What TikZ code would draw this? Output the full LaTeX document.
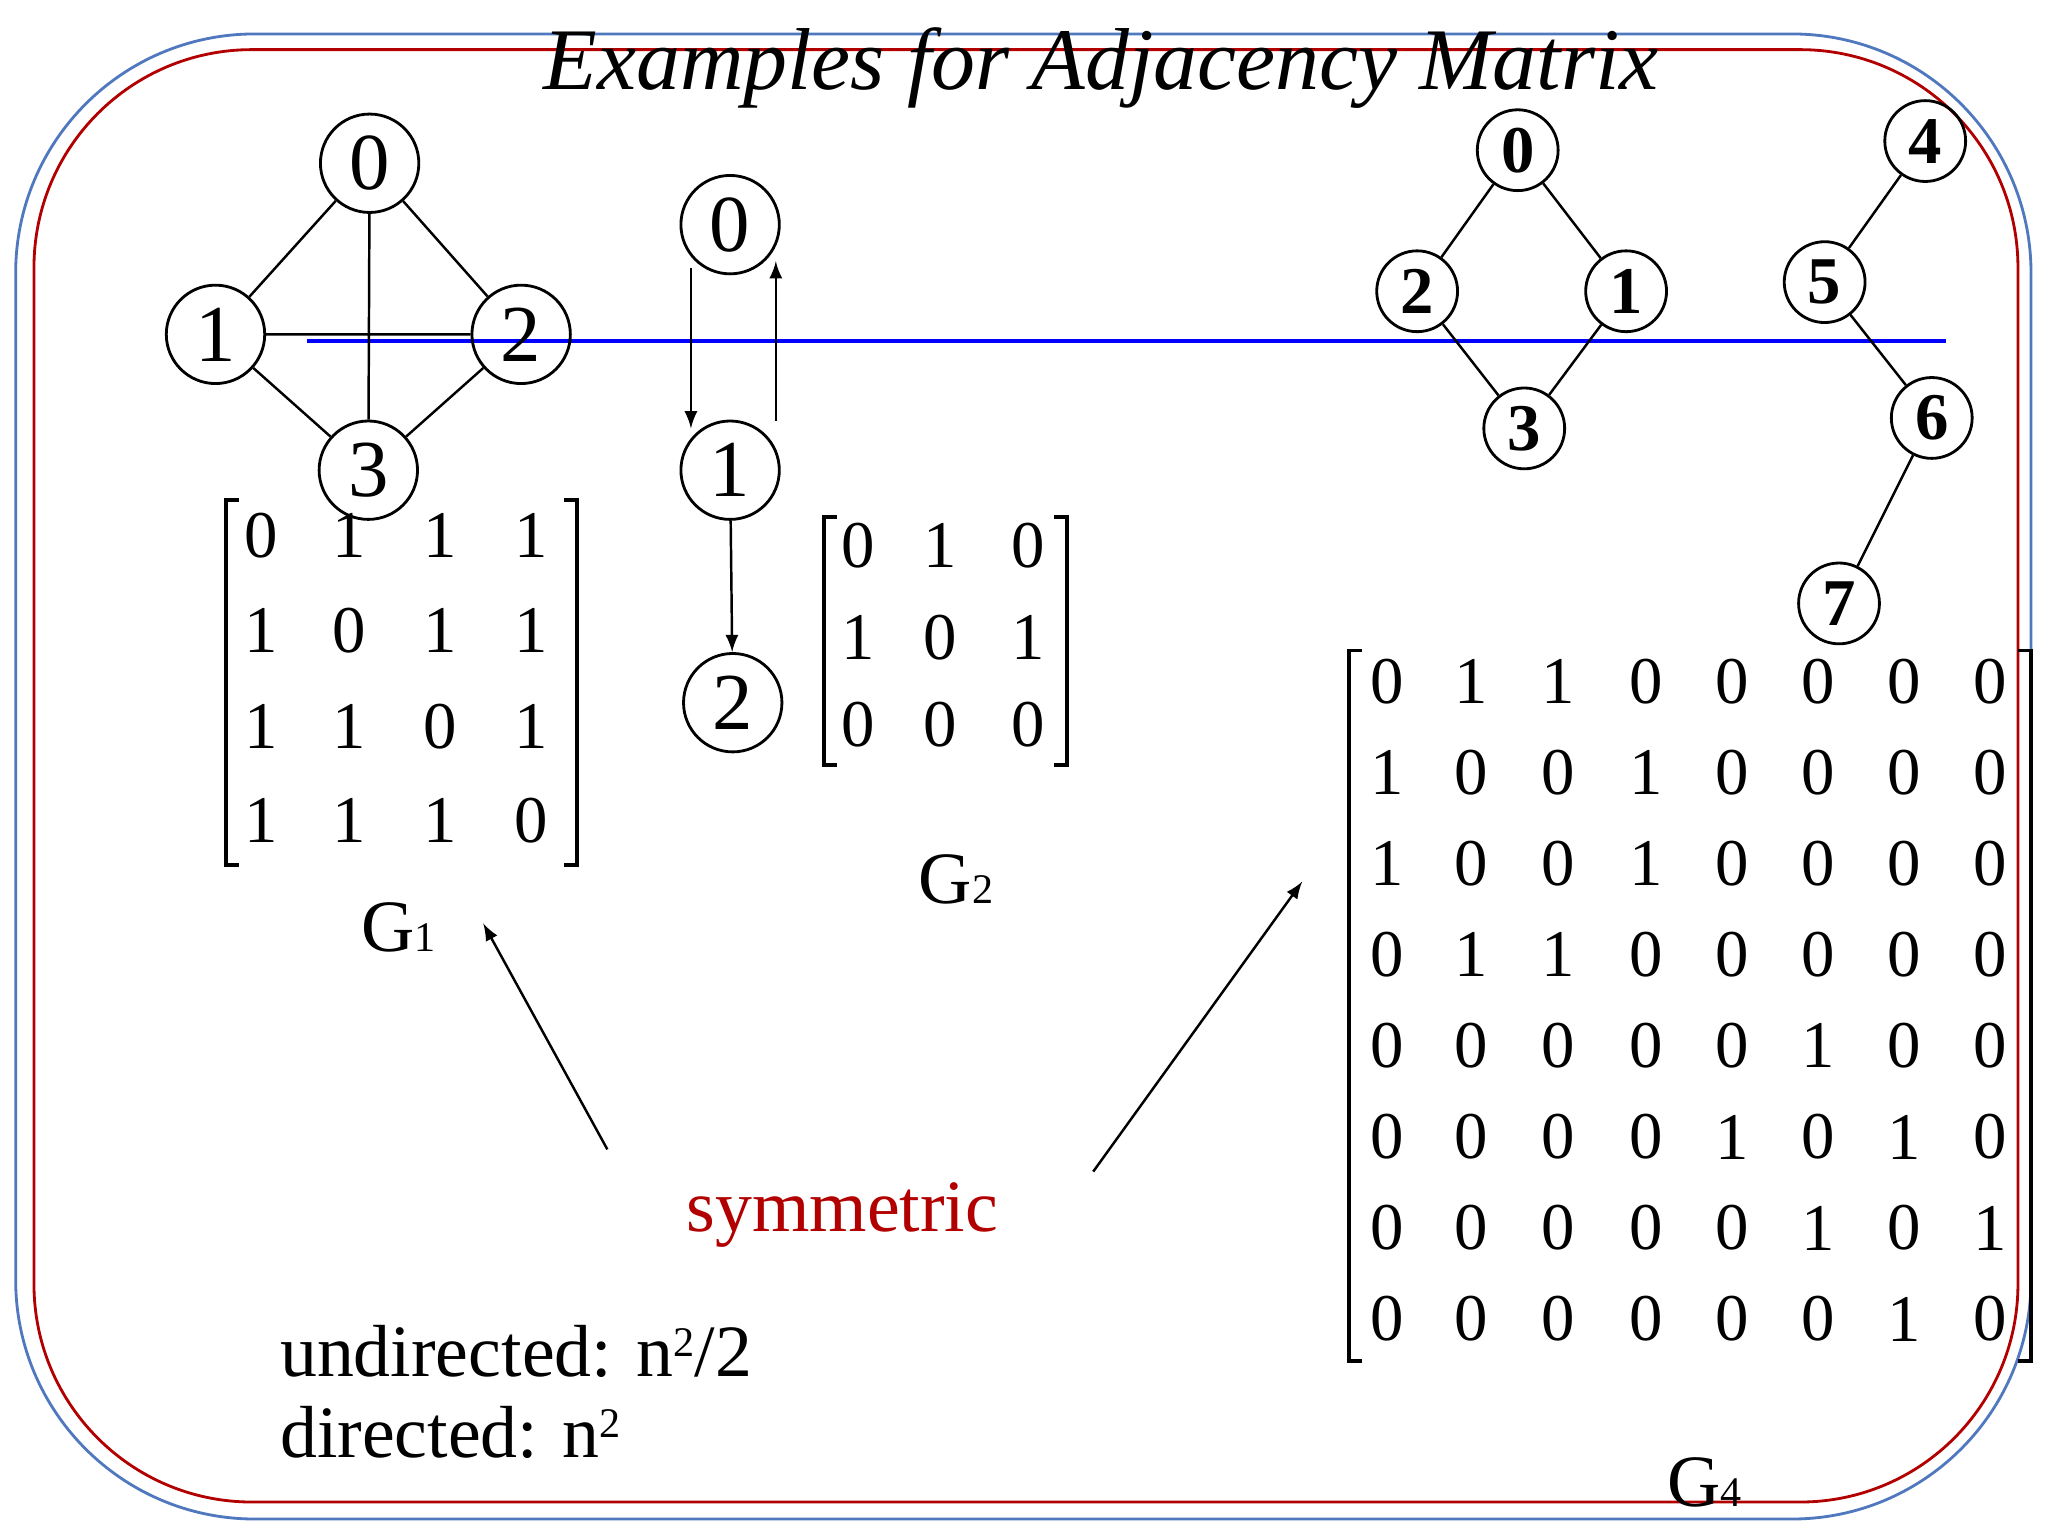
\documentclass[tikz,border=0pt]{standalone}
\usepackage{fontspec}
\setmainfont{Liberation Serif}
\begin{document}
\begin{tikzpicture}[x=0.013061cm,y=-0.013061cm,
 vt/.style={circle,draw,thick,minimum size=28pt,inner sep=0pt,font=\fontsize{23}{23}\selectfont},
 vb/.style={circle,draw,thick,minimum size=23pt,inner sep=0pt,font=\fontsize{19}{19}\selectfont\bfseries},
 mat/.style={font=\fontsize{19}{19}\selectfont,inner sep=0pt},
 br/.style={line width=1.1pt},
 ed/.style={line width=0.7pt},
 ar/.style={-latex,line width=0.7pt},
 lab/.style={font=\fontsize{21}{21}\selectfont}]
\useasboundingbox (0,0) rectangle (1568,1176);
\fill[white] (0,0) rectangle (1568,1176);
\definecolor{fb}{RGB}{80,120,190}
\draw[fb,line width=0.8pt,rounded corners=68pt] (12,26) rectangle (1555,1163);
\draw[red!70!black,line width=0.8pt,rounded corners=62pt] (26,38) rectangle (1545,1150);
\node[font=\fontsize{25}{25}\selectfont\itshape] (title) at (843,52) {Examples for Adjacency Matrix};
\draw[blue,line width=1pt] (235,261) coordinate (bl1) -- (1490,261) coordinate (bl2);
% G1, G2
\node[vt] (a0) at (283,125) {0};
\node[vt] (a1) at (165,256) {1};
\node[vt] (a2) at (399,256) {2};
\node[vt] (a3) at (282,360) {3};
\node[vt] (b0) at (559,172) {0};
\node[vt] (b1) at (559,360) {1};
\node[vt] (b2) at (561,538) {2};
\draw[ed] (a0)--(a1) (a0)--(a2) (a0)--(a3) (a1)--(a2) (a1)--(a3) (a2)--(a3);
\draw[ar] (529,205) coordinate (s1) -- (529,328) coordinate (t1);
\draw[ar] (594,322) coordinate (s2) -- (594,200) coordinate (t2);
\draw[ar] (b1) -- (b2);
% G4
\node[vb] (c0) at (1162,115) {0};
\node[vb] (c2) at (1085,223) {2};
\node[vb] (c1) at (1245,223) {1};
\node[vb] (c3) at (1167,328) {3};
\node[vb] (c4) at (1474,108) {4};
\node[vb] (c5) at (1397,216) {5};
\node[vb] (c6) at (1479,320) {6};
\node[vb] (c7) at (1408,462) {7};
\draw[ed] (c0)--(c2) (c0)--(c1) (c2)--(c3) (c1)--(c3) (c4)--(c5) (c5)--(c6) (c6)--(c7);
% G1 matrix
\draw[br] (183,383)--(173,383)--(173,662)--(183,662);
\draw[br] (432,383)--(442,383)--(442,662)--(432,662);
\foreach \r [count=\i] in {{0,1,1,1},{1,0,1,1},{1,1,0,1},{1,1,1,0}}{
 \foreach \v [count=\j] in \r {
  \pgfmathsetmacro\xx{{200,267,337,407}[\j-1]}
  \pgfmathsetmacro\yy{{410,483,556,628}[\i-1]}
  \node[mat] (m1-\i-\j) at (\xx,\yy) {\v};
 }}
% G2 matrix
\draw[br] (641,396)--(631,396)--(631,586)--(641,586);
\draw[br] (807,396)--(817,396)--(817,586)--(807,586);
\foreach \r [count=\i] in {{0,1,0},{1,0,1},{0,0,0}}{
 \foreach \v [count=\j] in \r {
  \pgfmathsetmacro\xx{{657,720,787}[\j-1]}
  \pgfmathsetmacro\yy{{418,488,555}[\i-1]}
  \node[mat] (m2-\i-\j) at (\xx,\yy) {\v};
 }}
% G4 matrix
\draw[br] (1043,498)--(1033,498)--(1033,1042)--(1043,1042);
\draw[br] (1545,498)--(1555,498)--(1555,1042)--(1545,1042);
\foreach \r [count=\i] in {{0,1,1,0,0,0,0,0},{1,0,0,1,0,0,0,0},{1,0,0,1,0,0,0,0},{0,1,1,0,0,0,0,0},{0,0,0,0,0,1,0,0},{0,0,0,0,1,0,1,0},{0,0,0,0,0,1,0,1},{0,0,0,0,0,0,1,0}}{
 \foreach \v [count=\j] in \r {
  \pgfmathsetmacro\xx{{1062,1126,1193,1260,1326,1392,1458,1524}[\j-1]}
  \pgfmathsetmacro\yy{522+69.7*(\i-1)}
  \node[mat] (m4-\i-\j) at (\xx,\yy) {\v};
 }}
% labels
\node[lab] (g1) at (305,710) {G{\fontsize{12}{12}\selectfont 1}};
\node[lab] (g2) at (732,673) {G{\fontsize{12}{12}\selectfont 2}};
\node[lab] (g4) at (1305,1135) {G{\fontsize{12}{12}\selectfont 4}};
\coordinate (p1) at (465,880); \coordinate (q1) at (370,707);
\coordinate (p2) at (837,897); \coordinate (q2) at (997,675);
\draw[ar] (p1)--(q1);
\draw[ar] (p2)--(q2);
\node[lab,text=red!70!black] (sym) at (645,930) {symmetric};
\node[lab,anchor=west] (und) at (205,1035) {undirected: n\raisebox{0.6ex}{\fontsize{12}{12}\selectfont 2}/2};
\node[lab,anchor=west] (dir) at (205,1097) {directed: n\raisebox{0.6ex}{\fontsize{12}{12}\selectfont 2}};
\end{tikzpicture}
\end{document}
